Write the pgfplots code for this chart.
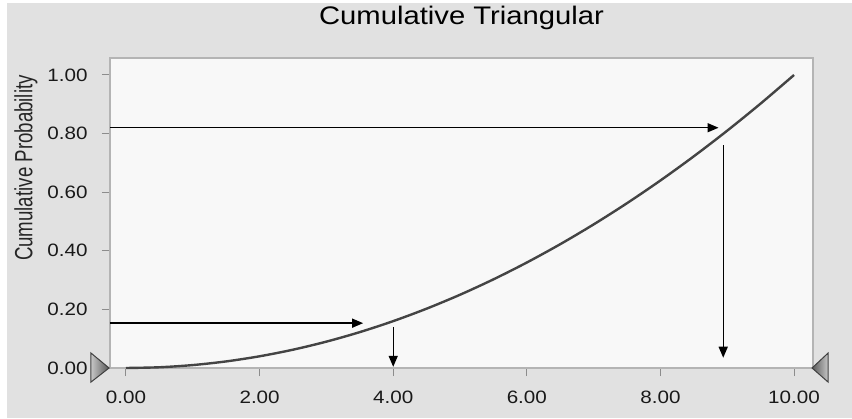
\documentclass[border=0pt]{standalone}
\usepackage{fontspec}
\setmainfont{Liberation Sans}[FakeStretch=1.15]
\newfontfamily\ylabfont{Liberation Sans}[FakeStretch=0.75]
\newcommand\tickfont{\fontsize{18}{21}\selectfont}
\usepackage{graphicx}
\usepackage{pgfplots}
\pgfplotsset{compat=1.18}
\usetikzlibrary{arrows.meta}
\definecolor{bg}{HTML}{E1E1E1}
\definecolor{plotbg}{HTML}{F8F8F8}
\definecolor{frame}{HTML}{B4B4B4}
\definecolor{curve}{HTML}{444444}
\begin{document}
\begin{tikzpicture}
\fill[white] (-110bp,-51bp) rectangle (742bp,368bp);
\fill[bg] (-103bp,-50bp) rectangle (742bp,365bp);
\begin{axis}[
  at={(0,0)}, anchor=south west,
  scale only axis, width=703bp, height=310bp,
  xmin=-0.2395, xmax=10.284, ymin=0, ymax=1.058,
  clip=false,
  axis background/.style={fill=plotbg},
  axis line style={draw=frame, line width=1.5bp},
  xtick pos=bottom, ytick pos=left, tick align=outside,
  major tick length=8bp,
  tick style={draw=black!45, line width=1bp},
  xtick={0,2,4,6,8,10},
  ytick={0,0.2,0.4,0.6,0.8,1},
  xticklabels={0.00,2.00,4.00,6.00,8.00,10.00},
  yticklabels={0.00,0.20,0.40,0.60,0.80,1.00},
  xticklabel style={font=\tickfont, text=black!90, yshift=-11bp},
  yticklabel style={font=\tickfont, text=black!90, xshift=-11bp},
  title={\fontsize{25.5}{30}\selectfont Cumulative Triangular},
  title style={at={(rel axis cs:0.5,1)}, anchor=base, yshift=28bp, inner sep=0pt},
]
\addplot[curve, line width=2.4bp, smooth] coordinates {
(0,0) (0.5,0.0025) (1,0.01) (1.5,0.0225) (2,0.04) (2.5,0.0625) (3,0.09) (3.5,0.1225)
(4,0.16) (4.5,0.2025) (5,0.25) (5.5,0.3025) (6,0.36) (6.5,0.4225) (7,0.49)
(7.5,0.5625) (8,0.64) (8.5,0.7225) (9,0.81) (9.5,0.9025) (10,1)};
% arrows
\addplot[black, line width=1.4bp, -{Triangle[length=11bp,width=9bp]}] coordinates {(-0.2395,0.153) (3.55,0.153)};
\addplot[black, line width=1.4bp, -{Triangle[length=11bp,width=9bp]}] coordinates {(4,0.14) (4,0.004)};
\addplot[black, line width=1.4bp, -{Triangle[length=11bp,width=9bp]}] coordinates {(-0.2395,0.82) (8.87,0.82)};
\addplot[black, line width=1.4bp, -{Triangle[length=11bp,width=9bp]}] coordinates {(8.94,0.76) (8.94,0.035)};
% slider triangles
\addplot[draw=black!75, line width=1bp, left color=gray!45, right color=black!65] coordinates {(-0.524,0.051) (-0.254,0) (-0.524,-0.048)} -- cycle;
\addplot[draw=black!75, line width=1bp, left color=black!65, right color=gray!45] coordinates {(10.51,0.051) (10.27,0) (10.51,-0.048)} -- cycle;
\node[rotate=90, font=\ylabfont\fontsize{25}{28}\selectfont, text=black!85] at (rel axis cs:-0.1195,0.645) {Cumulative Probability};
\end{axis}
\pgfresetboundingbox
\useasboundingbox (-110bp,-51bp) rectangle (742bp,368bp);
\end{tikzpicture}
\end{document}
